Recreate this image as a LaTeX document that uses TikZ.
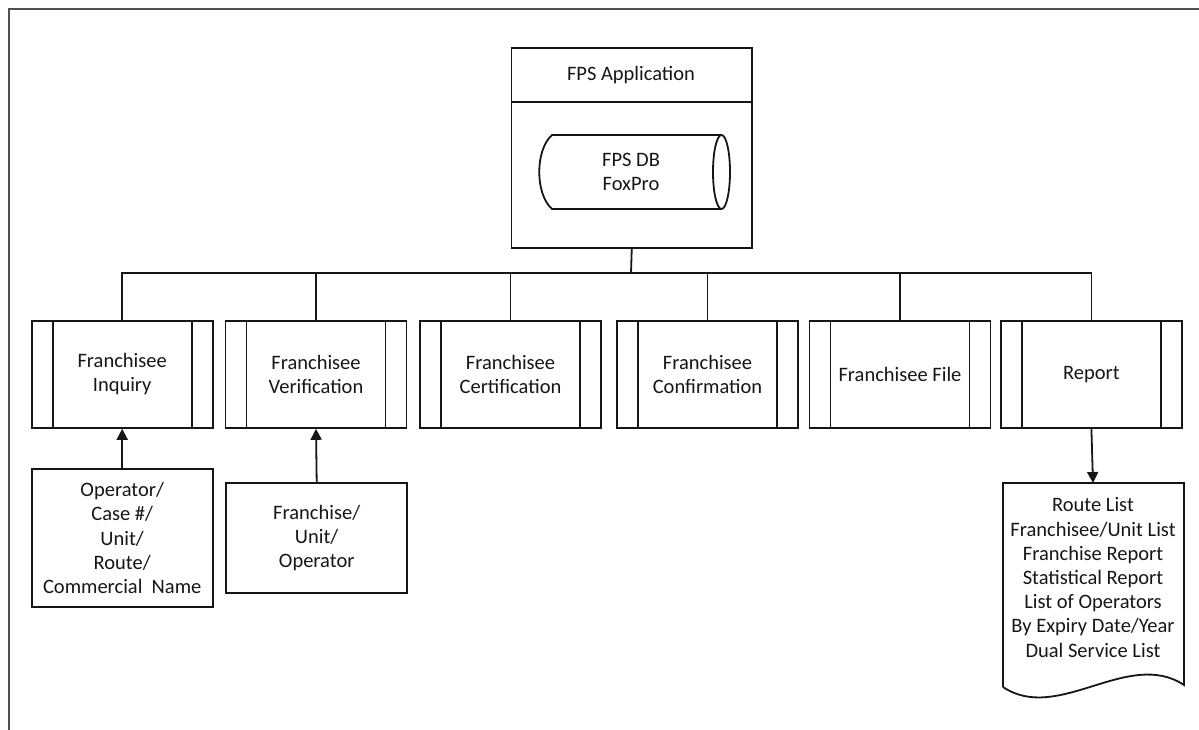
\documentclass[tikz,border=0pt]{standalone}
\usepackage{fontspec}
\setmainfont{Carlito}
\usetikzlibrary{arrows.meta,calc}
\definecolor{ink}{RGB}{22,22,22}
\definecolor{framegray}{RGB}{80,80,80}
\begin{document}
\begin{tikzpicture}[x=1pt,y=-1pt,
  every node/.style={font=\fontsize{20.5}{24.2}\selectfont, text=ink, align=center, inner sep=0pt},
  line/.style={draw=ink, line width=1.8pt},
  subproc/.style={line, minimum width=181pt, minimum height=107pt,
    path picture={
      \draw[ink, line width=1.8pt] ([xshift=21pt]path picture bounding box.north west) -- ([xshift=21pt]path picture bounding box.south west);
      \draw[ink, line width=1.8pt] ([xshift=-21pt]path picture bounding box.north east) -- ([xshift=-21pt]path picture bounding box.south east);
    }},
  inbox/.style={line, minimum width=181pt},
  flow/.style={line, -{Triangle[length=11pt,width=11pt]}}
]
\useasboundingbox (0,0) rectangle (1199,730);

% page frame
\draw[framegray, line width=2.4pt] (9,730) -- (9,9) -- (1199,9);

% application block with database
\node[line, minimum width=240.5pt, minimum height=199.75pt] (app) at (631.75,148.25) {};
\draw[line] ($(app.north west)+(0,54.5)$) -- ($(app.north east)+(0,54.5)$);
\node (apptitle) at (631,75.5) {FPS Application};
\node (db) at (631,172) {FPS DB\\FoxPro};
\draw[line] (721.5,135) -- (552,135) .. controls (535,150) and (535,194) .. (552,209) -- (721.5,209);
\draw[line] (721.5,172) ellipse [x radius=8.5pt, y radius=37pt];

% modules
\node[subproc] (b1) at (122.2,374.4) {Franchisee\\Inquiry};
\node[subproc] (b2) at (316,374.4) {Franchisee\\Verification};
\node[subproc] (b3) at (510.5,374.4) {Franchisee\\Certification};
\node[subproc] (b4) at (707.5,374.4) {Franchisee\\Confirmation};
\node[subproc] (b5) at (900,374.4) {Franchisee File};
\node[subproc] (b6) at (1091.4,374.4) {Report};

% bus connectors
\coordinate (bus) at (631,273);
\draw[line] (app.south) -- (bus);
\foreach \n in {b1,b2,b3,b4,b5,b6}
  \draw[line] (bus) -| (\n.north);

% inputs
\node[inbox, minimum height=138pt] (op) at (122.2,538) {Operator/\\Case \#/\\Unit/\\Route/\\Commercial\ \ Name};
\node[inbox, minimum height=110pt] (fr) at (316.7,538) {Franchise/\\Unit/\\Operator};
\draw[flow] (op.north) -- (b1.south);
\draw[flow] (fr.north) -- (b2.south);

% report output document
\node (rep) at (1093,577.5) {Route List\\Franchisee/Unit List\\Franchise Report\\Statistical Report\\List of Operators\\By Expiry Date/Year\\Dual Service List};
\coordinate (reptop) at (1093,483);
\draw[line] (1003,687) -- (1003,483) -- (1184,483) -- (1184,685)
  .. controls (1128,648) and (1058,724) .. (1003,687);
\draw[flow] (b6.south) -- (reptop);
\end{tikzpicture}
\end{document}
